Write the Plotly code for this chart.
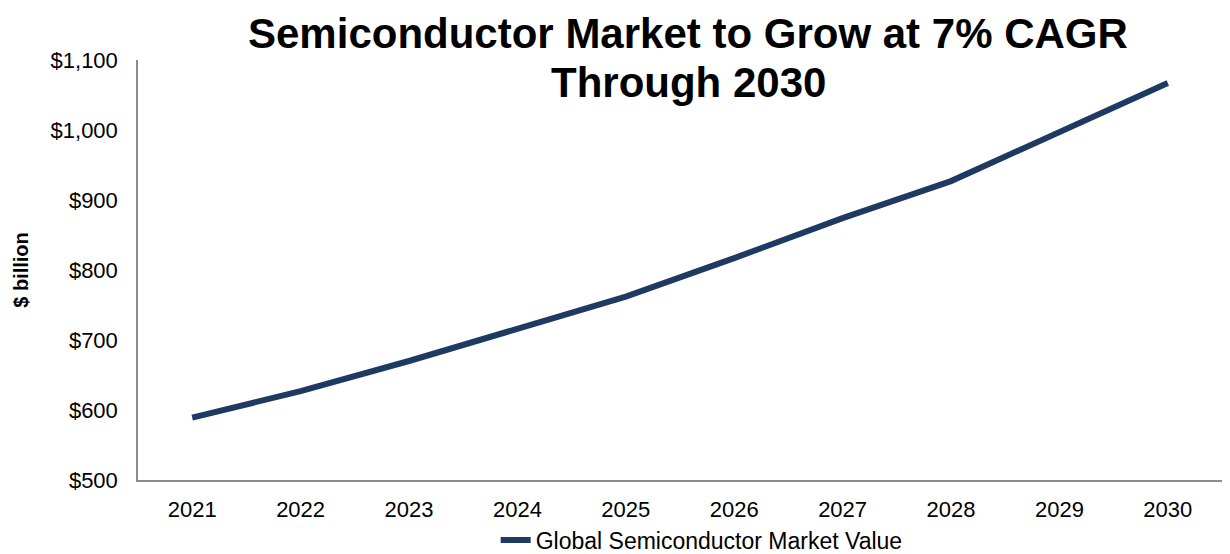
import plotly.graph_objects as go

years = ["2021", "2022", "2023", "2024", "2025", "2026", "2027", "2028", "2029", "2030"]
market_value = [589, 627, 670, 717, 762, 817, 874, 927, 996, 1067]
series_name = "Global Semiconductor Market Value"
title_lines = ["Semiconductor Market to Grow at 7% CAGR", "Through 2030"]
y_title = "$ billion"

FONT = "Liberation Sans, Arial, sans-serif"
NAVY = "#1f3a60"
AXIS = "#8c8c8c"

fig = go.Figure()
fig.add_trace(go.Scatter(
    x=years, y=market_value, mode="lines", name=series_name,
    line=dict(color=NAVY, width=6),
))

fig.update_layout(
    width=1230, height=554,
    margin=dict(l=138, r=8, t=60, b=74, autoexpand=False),
    paper_bgcolor="white", plot_bgcolor="white",
    font=dict(family=FONT, color="black", size=22),
    showlegend=True,
    legend=dict(orientation="h", x=0.52, xanchor="center", y=-0.092, yanchor="top",
                font=dict(size=23, color="black"), bgcolor="rgba(0,0,0,0)"),
    xaxis=dict(type="category", range=[-0.5, len(years) - 0.5], showgrid=False,
               zeroline=False, showline=True, automargin=False,
               linecolor=AXIS, linewidth=1.5, ticks="", tickfont=dict(size=22),
               ticklabelstandoff=9, fixedrange=True),
    yaxis=dict(range=[500, 1100], dtick=100, tickprefix="$", tickformat=",",
               showgrid=False, zeroline=False, showline=True, linecolor=AXIS,
               linewidth=1.5, ticks="", tickfont=dict(size=22), ticklabelstandoff=14,
               automargin=False,
               title=dict(text="<b>" + y_title + "</b>", font=dict(size=20), standoff=17)),
)

for i, (txt, ypix) in enumerate(zip(title_lines, [33, 82])):
    fig.add_annotation(
        text="<b>" + txt + "</b>", xref="paper", yref="paper",
        x=(688 - 138) / 1084, y=(480 - ypix) / 420, xanchor="center", yanchor="middle",
        showarrow=False, font=dict(size=42, family=FONT, color="black"),
    )

fig.write_html("out.html")
